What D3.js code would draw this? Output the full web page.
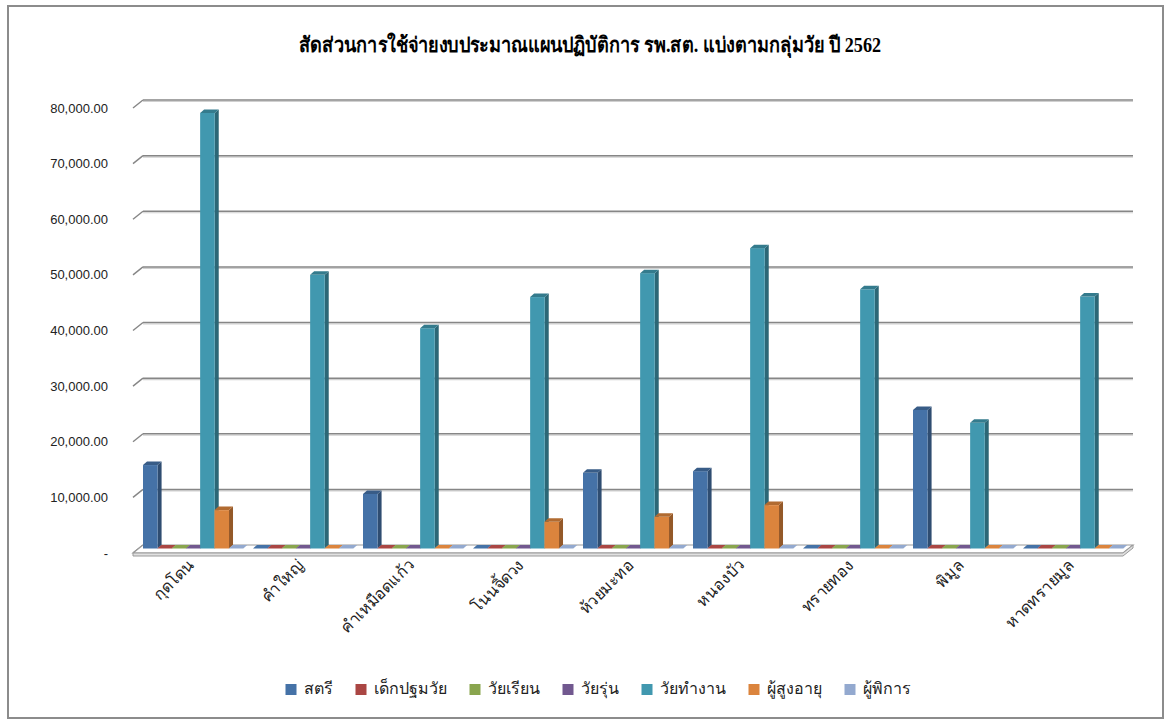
<!DOCTYPE html>
<html>
<head>
<meta charset="utf-8">
<script src="https://cdn.jsdelivr.net/npm/d3@7"></script>
<style>
  body { margin: 0; background: #fff; }
  text { font-family: "Liberation Serif", "DejaVu Serif", serif; }
</style>
</head>
<body>
<svg id="chart" width="1175" height="722"></svg>
<script>
// data
var categories = ["กุดโดน", "คำใหญ่", "คำเหมือดแก้ว", "โนนจิ้ดวง", "ห้วยมะทอ", "หนองบัว", "ทรายทอง", "พิมูล", "หาดทรายมูล"];
var seriesNames = ["สตรี", "เด็กปฐมวัย", "วัยเรียน", "วัยรุ่น", "วัยทำงาน", "ผู้สูงอายุ", "ผู้พิการ"];
var satri     = [15000, 0, 9800, 0, 13600, 13900, 0, 24900, 0];
var dek       = [0, 0, 0, 0, 0, 0, 0, 0, 0];
var wairian   = [0, 0, 0, 0, 0, 0, 0, 0, 0];
var wairun    = [0, 0, 0, 0, 0, 0, 0, 0, 0];
var waitamngan = [78300, 49200, 39600, 45200, 49500, 54000, 46600, 22600, 45300];
var phusung   = [6900, 0, 0, 4800, 5700, 7800, 0, 0, 0];
var phupikan  = [0, 0, 0, 0, 0, 0, 0, 0, 0];
var yTicks = [0, 10000, 20000, 30000, 40000, 50000, 60000, 70000, 80000];
var title = "สัดส่วนการใช้จ่ายงบประมาณแผนปฏิบัติการ รพ.สต. แบ่งตามกลุ่มวัย ปี 2562";

var seriesValues = [satri, dek, wairian, wairun, waitamngan, phusung, phupikan];
var colors = ["#4572A7", "#AA4643", "#89A54E", "#71588F", "#4198AF", "#DB843D", "#93A9CF"];

var svg = d3.select("#chart");

// outer border
svg.append("rect").attr("x", 8).attr("y", 6).attr("width", 1155).attr("height", 712)
  .attr("fill", "#fff").attr("stroke", "#8c8c8c").attr("stroke-width", 2);

svg.append("text").attr("x", 590).attr("y", 52).attr("text-anchor", "middle")
  .attr("textLength", 582).attr("lengthAdjust", "spacingAndGlyphs")
  .style("font-size", "21px").style("font-weight", "bold").text(title);

// 3d depth of the walls
var depth = { dx: 10, dy: -8 };
var backLeft = 143, backRight = 1133;

var yBack = d3.scaleLinear().domain([0, 80000]).range([545, 100]);

var x0 = d3.scaleBand().domain(categories).range([138, 1128]).paddingInner(0.0909).paddingOuter(0.04545);
var x1 = d3.scaleBand().domain(seriesNames).range([0, x0.bandwidth()]).padding(0);

// gridlines on back wall + slanted ticks on the side
var grid = svg.append("g");
yTicks.forEach(function (t) {
  var y = yBack(t);
  if (t > 0) {
    grid.append("line").attr("x1", backLeft).attr("x2", backRight).attr("y1", y + 1.5).attr("y2", y + 1.5)
      .attr("stroke", "#d0d0d0").attr("stroke-width", 1.2);
    grid.append("line").attr("x1", backLeft).attr("x2", backRight).attr("y1", y).attr("y2", y)
      .attr("stroke", "#868686").attr("stroke-width", 1.5);
  }
  grid.append("line").attr("x1", backLeft - depth.dx).attr("y1", y - depth.dy)
    .attr("x2", backLeft).attr("y2", y).attr("stroke", "#868686").attr("stroke-width", 1.5);
  grid.append("text").attr("x", 108).attr("y", y - depth.dy).attr("dy", "0.35em")
    .attr("text-anchor", "end")
    .style("font-family", "'Liberation Sans', Arial, sans-serif").style("font-size", "13px").style("fill", "#222")
    .text(t === 0 ? "-" : d3.format(",.2f")(t));
});

// floor slab
var y0 = yBack(0);
svg.append("path")
  .attr("d", "M" + backLeft + "," + y0 + "L" + backRight + "," + y0 + "L" + (backRight - depth.dx) + "," + (y0 - depth.dy) +
    "L" + (backLeft - depth.dx) + "," + (y0 - depth.dy) + "Z")
  .attr("fill", "#fff").attr("stroke", "#999").attr("stroke-width", 1.2);
svg.append("path")
  .attr("d", "M" + (backLeft - depth.dx) + "," + (y0 - depth.dy) + "L" + (backRight - depth.dx) + "," + (y0 - depth.dy) +
    "L" + backRight + "," + y0 + "L" + backRight + "," + (y0 + 3) + "L" + (backRight - depth.dx) + "," + (y0 - depth.dy + 3) +
    "L" + (backLeft - depth.dx) + "," + (y0 - depth.dy + 3) + "Z")
  .attr("fill", "#e0e0e0").attr("stroke", "#9a9a9a").attr("stroke-width", 1);

// bars
var bd = { dx: 4, dy: -3.5 };
var bars = [];
categories.forEach(function (c, i) {
  seriesNames.forEach(function (s, j) {
    bars.push({ cat: c, ser: s, j: j, value: seriesValues[j][i] });
  });
});

var barG = svg.append("g").selectAll("g").data(bars).join("g");
barG.each(function (d) {
  var g = d3.select(this);
  var x = x0(d.cat) + x1(d.ser), w = x1.bandwidth() + 0.3;
  var yb = yBack(0) + 3.5, yt = yBack(d.value) + 3.5;
  var col = d3.color(colors[d.j]);
  if (d.value > 0) {
    g.append("path")
      .attr("d", "M" + (x + w) + "," + yb + "L" + (x + w + bd.dx) + "," + (yb + bd.dy) + "L" + (x + w + bd.dx) + "," + (yt + bd.dy) + "L" + (x + w) + "," + yt + "Z")
      .attr("fill", col.darker(1.1));
    g.append("rect").attr("x", x).attr("y", yt).attr("width", w).attr("height", yb - yt)
      .attr("fill", colors[d.j]);
  }
  g.append("path")
    .attr("d", "M" + x + "," + yt + "L" + (x + w) + "," + yt + "L" + (x + w + bd.dx) + "," + (yt + bd.dy) + "L" + (x + bd.dx) + "," + (yt + bd.dy) + "Z")
    .attr("fill", d.value > 0 ? col.darker(0.6) : colors[d.j]);
});

// category labels rotated
svg.append("g").selectAll("text").data(categories).join("text")
  .attr("transform", function (d) { return "translate(" + (x0(d) + x0.bandwidth() / 2 + 2) + ",566) rotate(-45)"; })
  .attr("text-anchor", "end")
  .style("font-size", "16px").style("fill", "#222")
  .text(function (d) { return d; });

// legend
var legend = svg.append("g");
var lx = 0;
var items = legend.selectAll("g").data(seriesNames).join("g");
items.append("rect").attr("width", 11).attr("height", 11).attr("y", -10)
  .attr("fill", function (d, i) { return colors[i]; });
items.append("text").attr("x", 18).attr("y", 0).style("font-size", "16px").style("fill", "#222")
  .text(function (d) { return d; });
items.each(function () {
  var g = d3.select(this);
  g.attr("transform", "translate(" + lx + ",0)");
  lx += 18 + g.select("text").node().getComputedTextLength() + 23;
});
lx -= 23;
legend.attr("transform", "translate(" + (598 - lx / 2) + ",694)");
</script>
</body>
</html>
